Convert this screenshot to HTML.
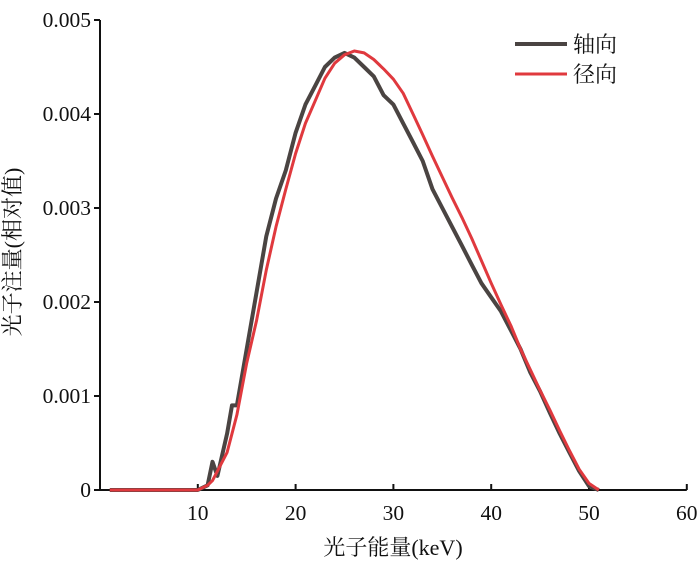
<!DOCTYPE html>
<html><head><meta charset="utf-8"><style>
body{margin:0;background:#fff}
svg text{font-family:"Liberation Serif","Noto Serif CJK SC",serif;fill:#111}
</style></head><body>
<svg width="700" height="567" viewBox="0 0 700 567">
<g id="axes"></g><g id="series"></g>
<g>
<line x1="515" y1="44" x2="567" y2="44" stroke="#4a4442" stroke-width="4"/>
<text x="573" y="52" font-size="22">轴向</text>
<line x1="515" y1="74" x2="567" y2="74" stroke="#e0393e" stroke-width="3"/>
<text x="573" y="82" font-size="22">径向</text>
</g>
<text x="393" y="555" font-size="22" text-anchor="middle">光子能量(keV)</text>
<text transform="translate(20,252) rotate(-90)" font-size="22" text-anchor="middle">光子注量(相对值)</text>
</svg>
<script>
const xTicks=[10,20,30,40,50,60];
const yTicks=[0,0.001,0.002,0.003,0.004,0.005];
const yTickLabels=["0","0.001","0.002","0.003","0.004","0.005"];
const energy=[1,10,11,11.5,12,13,13.5,14,15,16,17,18,19,20,21,22,23,24,25,26,27,28,29,30,31,32,33,34,35,36,37,38,39,40,41,42,43,44,45,46,47,48,49,50,51];
const axial=[0,0,0.00005,0.0003,0.00015,0.0006,0.0009,0.0009,0.0015,0.0021,0.0027,0.0031,0.0034,0.0038,0.0041,0.0043,0.0045,0.0046,0.00465,0.0046,0.0045,0.0044,0.0042,0.0041,0.0039,0.0037,0.0035,0.0032,0.003,0.0028,0.0026,0.0024,0.0022,0.00205,0.0019,0.0017,0.0015,0.00125,0.00105,0.00082,0.0006,0.0004,0.0002,0.00004,0];
const radial=[0,0,0.00005,0.0001,0.0002,0.0004,0.0006,0.0008,0.00135,0.0018,0.00234,0.0028,0.0032,0.00358,0.0039,0.00414,0.00438,0.00454,0.00463,0.00467,0.00465,0.00458,0.00448,0.00437,0.00422,0.004,0.00378,0.00355,0.00333,0.00311,0.0029,0.00268,0.00244,0.0022,0.00197,0.00175,0.0015,0.00128,0.00106,0.00085,0.00063,0.00042,0.00022,0.00007,0];
const X=v=>100+v*9.78, Y=v=>490-v*94000;
const ns="http://www.w3.org/2000/svg";
function mk(t,a,p){const e=document.createElementNS(ns,t);for(const k in a)e.setAttribute(k,a[k]);p.appendChild(e);return e;}
const ax=document.getElementById('axes');
let e=mk('path',{d:`M${X(0)},${Y(0.005)}H${X(0)-6}M${X(0)},${Y(0.005)}V${Y(0)}H${X(60)}`,fill:'none',stroke:'#111','stroke-width':2},ax);


yTicks.forEach((v,i)=>{
 const t=mk('line',{x1:X(0)-6,x2:X(0),y1:Y(v),y2:Y(v),stroke:'#111','stroke-width':2},ax);
 
 
 const l=mk('text',{x:X(0)-9,y:Y(v)+7,'font-size':21.5,'text-anchor':'end'},ax);l.textContent=yTickLabels[i];
 
 
});
xTicks.forEach(v=>{
 const t=mk('line',{x1:X(v),x2:X(v),y1:Y(0),y2:Y(0)-6,stroke:'#111','stroke-width':2},ax);
 
 
 const l=mk('text',{x:X(v),y:520,'font-size':21.5,'text-anchor':'middle'},ax);l.textContent=v;
 
 
});
const se=document.getElementById('series');
const pts=a=>energy.map((x,i)=>X(x).toFixed(1)+','+Y(a[i]).toFixed(1)).join(' ');
let p=mk('polyline',{points:pts(axial),fill:'none',stroke:'#4a4442','stroke-width':4,'stroke-linejoin':'round'},se);


p=mk('polyline',{points:pts(radial),fill:'none',stroke:'#e0393e','stroke-width':3,'stroke-linejoin':'round'},se);


</script>
</body></html>
